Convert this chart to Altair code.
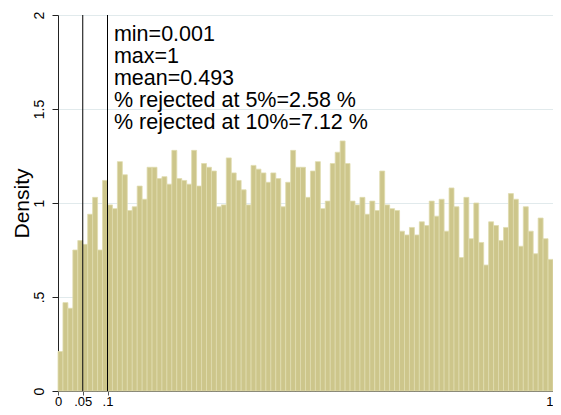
import altair as alt
import pandas as pd

# Histogram densities (100 bins of width 0.01 on [0, 1])
densities = [
    0.21, 0.47, 0.44, 0.75, 0.80, 0.78, 0.94, 1.03, 0.75, 1.12,
    0.99, 0.97, 1.22, 1.15, 0.96, 0.98, 1.09, 1.02, 1.19, 1.19,
    1.13, 1.14, 1.10, 1.28, 1.13, 1.12, 1.10, 1.28, 1.09, 1.21,
    1.19, 1.17, 0.98, 0.99, 1.24, 1.16, 1.12, 1.07, 0.99, 1.20,
    1.18, 1.16, 1.11, 1.16, 1.13, 0.98, 1.11, 1.28, 1.19, 1.19,
    1.03, 1.17, 1.22, 0.97, 1.01, 1.21, 1.27, 1.33, 1.21, 1.01,
    0.99, 1.03, 0.94, 1.01, 0.96, 1.17, 0.99, 0.97, 0.96, 0.85,
    0.83, 0.87, 0.83, 0.90, 0.88, 1.01, 0.93, 1.02, 0.85, 1.08,
    0.98, 0.71, 1.03, 0.81, 1.00, 0.79, 0.67, 0.90, 0.88, 0.80,
    0.87, 1.05, 1.02, 0.77, 0.98, 0.85, 0.73, 0.92, 0.81, 0.70,
]
bin_width = 0.01
ref_lines = [0.05, 0.1]
x_ticks = [0, 0.05, 0.1, 1]
y_ticks = [0, 0.5, 1, 1.5, 2]
annotation = [
    "min=0.001",
    "max=1",
    "mean=0.493",
    "% rejected at 5%=2.58 %",
    "% rejected at 10%=7.12 %",
]
ann_x = 0.113
ann_y = 1.95

bars_df = pd.DataFrame({
    "start": [i * bin_width for i in range(len(densities))],
    "end": [(i + 1) * bin_width for i in range(len(densities))],
    "base": [0.0] * len(densities),
    "density": densities,
})
lines_df = pd.DataFrame({"x": ref_lines, "y0": [0] * len(ref_lines), "y1": [2] * len(ref_lines)})
text_df = pd.DataFrame({"x": [ann_x], "y": [ann_y], "label": [annotation]})

xscale = alt.Scale(domain=[0, 1], nice=False, zero=False)
yscale = alt.Scale(domain=[0, 2], nice=False)

x_axis = alt.Axis(
    values=x_ticks,
    labelExpr="datum.value == 0.05 ? '.05' : datum.value == 0.1 ? '.1' : toString(datum.value)",
    labelAlign={"condition": {"test": "datum.value == 1", "value": "right"}, "value": "center"},
    grid=False, title=None, tickSize=4, labelPadding=0, labelFontSize=13,
    labelFont="Liberation Sans", labelColor="black", domainColor="#555555",
    tickColor="#555555", labelFlush=False, labelOverlap=False,
)
y_axis = alt.Axis(
    values=y_ticks,
    labelExpr="datum.value == 0.5 ? '.5' : toString(datum.value)",
    grid=True, gridColor="#e1eaec", gridWidth=1,
    title="Density", titleFontSize=21, titleFont="Liberation Sans",
    titleFontWeight="normal", titleColor="black", titlePadding=0,
    tickSize=6, labelPadding=6, labelFontSize=14, labelFont="Liberation Sans",
    labelColor="black", labelAngle=270, labelAlign="center", labelBaseline="bottom",
    domainColor="#222222", tickColor="#222222",
)

bars = alt.Chart(bars_df).mark_rect(
    color="#cdc68b", stroke="#e0dcae", strokeWidth=0.8
).encode(
    x=alt.X("start:Q", scale=xscale, axis=x_axis),
    x2="end:Q",
    y=alt.Y("density:Q", scale=yscale, axis=y_axis),
    y2="base:Q",
)

rules = alt.Chart(lines_df).mark_rule(color="black", strokeWidth=1).encode(
    x=alt.X("x:Q", scale=xscale),
    y=alt.Y("y0:Q", scale=yscale),
    y2="y1:Q",
)

text = alt.Chart(text_df).mark_text(
    align="left", baseline="top", fontSize=21.5, lineHeight=22,
    font="Liberation Sans", color="black",
).encode(
    x=alt.X("x:Q", scale=xscale),
    y=alt.Y("y:Q", scale=yscale),
    text="label",
)

chart = alt.layer(bars, rules, text).properties(
    width=495, height=376,
    autosize=alt.AutoSizeParams(type="none"),
    padding={"left": 50, "top": 7, "right": 0, "bottom": 16},
    background="white",
).configure_view(stroke=None)

chart.save("out.html", embed_options={"renderer": "svg", "actions": False})
